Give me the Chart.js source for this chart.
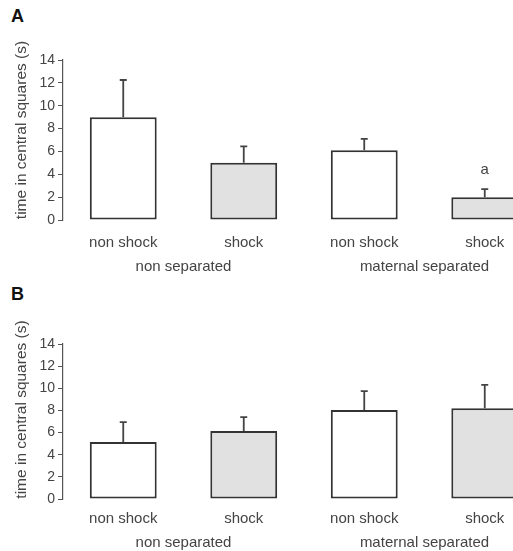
<!DOCTYPE html>
<html>
<head>
<meta charset="utf-8">
<script src="https://cdn.jsdelivr.net/npm/chart.js@4/dist/chart.umd.min.js"></script>
<style>
  html, body { margin: 0; padding: 0; background: #fff; overflow: hidden; width: 513px; height: 551px; }
  .panel { position: absolute; left: 0; }
  .letter { position: absolute; left: 11px; font: bold 18px "Liberation Sans", Arial, sans-serif; color: #111; }
</style>
</head>
<body>
<div class="letter" style="top:6px">A</div>
<div class="letter" style="top:284px">B</div>
<div class="panel" style="top:0"><canvas id="chartA" width="550" height="280"></canvas></div>
<div class="panel" style="top:280px"><canvas id="chartB" width="550" height="271"></canvas></div>
<script>
// categories and groups
const categories = ["non shock", "shock", "non shock", "shock"];
const groups = ["non separated", "maternal separated"];

// panel A values (mean and error)
const meansA = [9.0, 5.0, 6.1, 2.0];
const errA = [3.25, 1.45, 1.0, 0.7];
const marksA = ["", "", "", "a"];

// panel B values
const meansB = [5.15, 6.15, 8.05, 8.2];
const errB = [1.8, 1.25, 1.7, 2.1];
const marksB = ["", "", "", ""];

const yMin = 0, yMax = 14, yStep = 2;
const yTitle = "time in central squares (s)";

const FONT = '"Liberation Sans", Arial, sans-serif';
const barFills = ["#ffffff", "#e1e1e1", "#ffffff", "#e1e1e1"];

// error bars, letters above bars, group labels, y title
const extrasPlugin = {
    id: "extras",
    afterDatasetsDraw(chart, args, opts) {
        const ctx = chart.ctx;
        const y = chart.scales.y;
        const x = chart.scales.x;
        const area = chart.chartArea;
        const meta = chart.getDatasetMeta(0);
        ctx.save();
        ctx.strokeStyle = "#444";
        ctx.lineWidth = 1.8;
        meta.data.forEach((bar, i) => {
            const top = y.getPixelForValue(opts.means[i] + opts.errs[i]);
            const base = y.getPixelForValue(opts.means[i]);
            ctx.beginPath();
            ctx.moveTo(bar.x, base);
            ctx.lineTo(bar.x, top);
            ctx.moveTo(bar.x - 3.5, top);
            ctx.lineTo(bar.x + 3.5, top);
            ctx.stroke();
            if (opts.marks[i]) {
                ctx.fillStyle = "#444";
                ctx.font = "15px " + FONT;
                ctx.textAlign = "center";
                ctx.textBaseline = "middle";
                ctx.fillText(opts.marks[i], bar.x, top - 19);
            }
        });
        ctx.fillStyle = "#444";
        ctx.font = "15px " + FONT;
        ctx.textAlign = "center";
        ctx.textBaseline = "middle";
        groups.forEach((g, k) => {
            const gx = x.getPixelForValue(k * 2 + 0.5);
            ctx.fillText(g, gx, area.bottom + opts.groupOffset);
        });
        // rotated axis title
        ctx.translate(22, (area.top + area.bottom) / 2 + opts.titleShift);
        ctx.rotate(-Math.PI / 2);
        ctx.font = "15.5px " + FONT;
        ctx.fillText(yTitle, 0, 0);
        ctx.restore();
    }
};

function makeChart(id, means, errs, marks, p) {
    const context = document.getElementById(id).getContext("2d");
    return new Chart(context, {
        type: "bar",
        data: {
            labels: categories,
            datasets: [{
                data: means,
                backgroundColor: barFills,
                borderColor: "#333",
                borderWidth: 2,
                borderSkipped: false,
                barPercentage: 0.555,
                categoryPercentage: 1
            }]
        },
        options: {
            responsive: false,
            animation: false,
            layout: { padding: { top: p.top, right: 5, left: 0, bottom: 0 } },
            plugins: {
                legend: { display: false },
                tooltip: { enabled: false },
                extras: { means, errs, marks, groupOffset: p.groupOffset, titleShift: p.titleShift }
            },
            scales: {
                x: {
                    grid: { display: false, drawTicks: false },
                    border: { display: false },
                    ticks: { color: "#444", font: { family: FONT, size: 15 }, padding: p.tickPad, maxRotation: 0 },
                    afterFit(scale) { scale.height = p.xHeight; }
                },
                y: {
                    min: yMin,
                    max: yMax,
                    ticks: { stepSize: yStep, color: "#444", font: { family: FONT, size: 14 }, padding: 3 },
                    grid: { drawOnChartArea: false, drawTicks: true, tickLength: 5, color: "#555" },
                    border: { display: true, color: "#555", width: 1.2 },
                    afterFit(scale) { scale.width = 63; }
                }
            }
        },
        plugins: [extrasPlugin]
    });
}

makeChart("chartA", meansA, errA, marksA, { top: 60, xHeight: 60, tickPad: 14, groupOffset: 47, titleShift: -10 });
makeChart("chartB", meansB, errB, marksB, { top: 64, xHeight: 52, tickPad: 11, groupOffset: 44, titleShift: -12 });
</script>
</body>
</html>
